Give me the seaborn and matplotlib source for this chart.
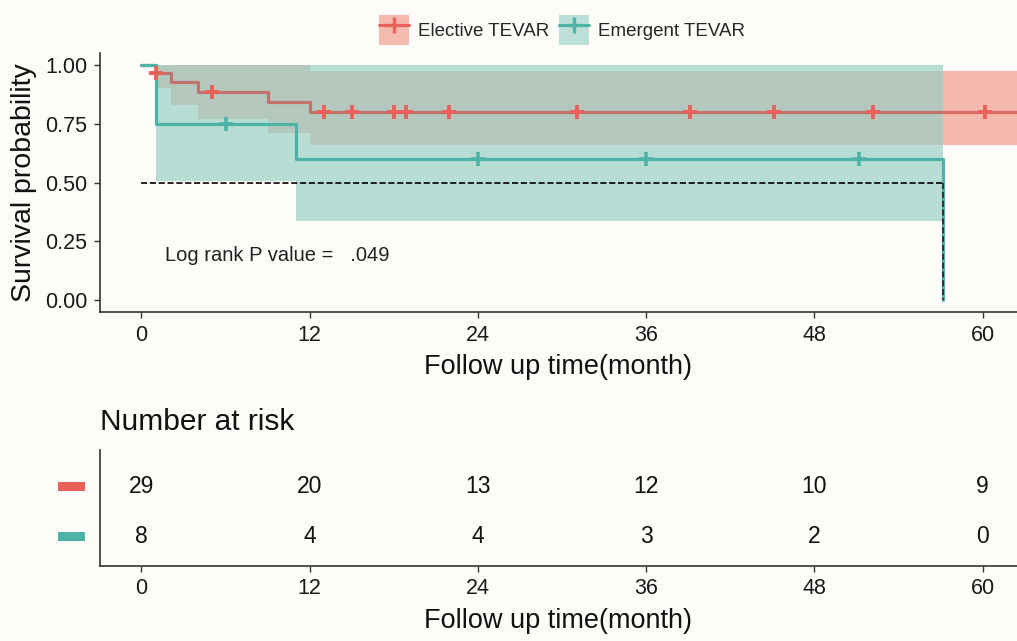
import numpy as np
import matplotlib
matplotlib.use("Agg")
import matplotlib.pyplot as plt
import seaborn as sns
from matplotlib.patches import Patch, Rectangle
from matplotlib.lines import Line2D

# ---------- DATA ----------
groups = ["Elective TEVAR", "Emergent TEVAR"]
line_colors = ["#E8625A", "#4DB3A6"]
band_colors = ["#EE7A66", "#9AD0C6"]
band_alpha = [0.52, 0.7]

# Kaplan-Meier steps: time in months, survival probability
elec_time = [0, 1.0, 2.1, 4.05, 9.0, 12.0, 62.5]
elec_surv = [1.0, 0.966, 0.926, 0.884, 0.841, 0.80, 0.80]
elec_upper = [1.0, 1.0, 1.0, 1.0, 1.0, 0.972, 0.972]
elec_lower = [1.0, 0.90, 0.83, 0.77, 0.71, 0.66, 0.66]
elec_censor = [1.0, 5.0, 13.0, 15.0, 18.0, 18.9, 21.9, 31.1, 39.1, 45.1, 52.2, 60.2]

emer_time = [0, 1.0, 11.0, 57.2, 57.2]
emer_surv = [1.0, 0.75, 0.60, 0.60, 0.0]
emer_band_time = [0, 1.0, 11.0, 57.2]
emer_upper = [1.0, 1.0, 1.0, 1.0]
emer_lower = [1.0, 0.506, 0.336, 0.336]
emer_censor = [6.0, 24.0, 36.0, 51.2]

median_time = 57.2
p_text = "Log rank P value =   .049"

risk_times = [0, 12, 24, 36, 48, 60]
elec_risk = [29, 20, 13, 12, 10, 9]
emer_risk = [8, 4, 4, 3, 2, 0]

xticks = [0, 12, 24, 36, 48, 60]
yticks = [0.0, 0.25, 0.5, 0.75, 1.0]
xlabel = "Follow up time(month)"


def surv_at(times, surv, t):
    idx = np.searchsorted(np.asarray(times), np.asarray(t), side="right") - 1
    return np.asarray(surv)[idx]


sns.set_theme(style="ticks")
plt.rcParams["font.family"] = ["Liberation Sans", "DejaVu Sans"]
bg = "#fdfcf9"
W, H = 1017, 641
fig = plt.figure(figsize=(W / 100, H / 100), dpi=100, facecolor=bg)

# ---------- survival panel ----------
ax = fig.add_axes([100 / W, 1 - 312 / H, 1 - 100 / W, (312 - 53) / H], facecolor=bg)
XLIM = (-2.96, 62.45)

ax.fill_between(elec_time, elec_lower, elec_upper, step="post",
                color=band_colors[0], alpha=band_alpha[0], lw=0, zorder=1)
ax.fill_between(emer_band_time, emer_lower, emer_upper, step="post",
                color=band_colors[1], alpha=band_alpha[1], lw=0, zorder=2)
# elective curve sits over the bands, partly transparent (brownish inside the overlap)
sns.lineplot(x=elec_time, y=elec_surv, drawstyle="steps-post", estimator=None,
             sort=False, color="#C83C37", alpha=0.6, lw=2.3, ax=ax, zorder=3)
sns.lineplot(x=emer_time, y=emer_surv, drawstyle="steps-post", estimator=None,
             sort=False, color=line_colors[1], lw=2.3, ax=ax, zorder=4)

sns.scatterplot(x=elec_censor, y=surv_at(elec_time, elec_surv, elec_censor),
                marker="+", s=115, linewidth=2.8, color=line_colors[0], ax=ax, zorder=5)
sns.scatterplot(x=emer_censor, y=surv_at(emer_time, emer_surv, emer_censor),
                marker="+", s=115, linewidth=2.6, color=line_colors[1], ax=ax, zorder=5)

# median survival line
ax.plot([0, median_time], [0.5, 0.5], ls="--", color="black", lw=1.2, zorder=6)
ax.plot([median_time, median_time], [0.5, 0.0], ls="--", color="#222222", lw=1.2, zorder=6)

ax.text(1.7, 0.19, p_text, fontsize=14.5, color="#222222", va="center", ha="left")

ax.set_xlim(*XLIM)
ax.set_ylim(-0.05, 1.05)
ax.set_xticks(xticks)
ax.set_yticks(yticks)
ax.set_yticklabels([f"{v:.2f}" for v in yticks])
ax.tick_params(labelsize=15.5, length=4, width=1, colors="#333333", labelcolor="#1a1a1a", pad=5)
ax.set_xlabel(xlabel, fontsize=19.5, color="#111111", labelpad=6)
ax.set_ylabel("Survival probability", fontsize=20.5, color="#111111", labelpad=6)
for s in ["top", "right"]:
    ax.spines[s].set_visible(False)
for s in ["left", "bottom"]:
    ax.spines[s].set_color("#333333")
    ax.spines[s].set_linewidth(1.2)

handles = []
for lc, bc, al in zip(line_colors, ["#EE7A66", "#5BB5A5"], [0.5, 0.4]):
    handles.append((Patch(facecolor=bc, alpha=al, lw=0),
                    Line2D([], [], color=lc, lw=2.2, marker="+", ms=12, mew=2.4)))
fig.legend(handles, groups, loc="center", bbox_to_anchor=(562 / W, 1 - 30 / H),
           ncol=2, frameon=False, fontsize=13.5, handlelength=1.6, handleheight=2.1,
           handletextpad=0.5, columnspacing=0.5, borderaxespad=0)

# ---------- risk table ----------
tab = fig.add_axes([100 / W, 1 - 566 / H, 1 - 100 / W, (566 - 450) / H], facecolor=bg)
tab.set_xlim(*XLIM)
tab.set_ylim(0.413, 2.733)
for t, n in zip(risk_times, elec_risk):
    tab.text(t, 2, str(n), ha="center", va="center", fontsize=16.5, color="#111111")
for t, n in zip(risk_times, emer_risk):
    tab.text(t, 1, str(n), ha="center", va="center", fontsize=16.5, color="#111111")
tab.set_xticks(xticks)
tab.set_yticks([])
tab.tick_params(labelsize=15.5, length=4, width=1, colors="#333333", labelcolor="#1a1a1a", pad=5)
tab.set_xlabel(xlabel, fontsize=19.5, color="#111111", labelpad=6)
for s in ["top", "right"]:
    tab.spines[s].set_visible(False)
for s in ["left", "bottom"]:
    tab.spines[s].set_color("#333333")
    tab.spines[s].set_linewidth(1.2)

# colour keys for the rows
for yc, c in zip([486.5, 536.5], line_colors):
    fig.add_artist(Rectangle((58 / W, 1 - (yc + 4.5) / H), 27 / W, 9 / H,
                             transform=fig.transFigure, facecolor=c, edgecolor="none"))

fig.text(100 / W, 1 - 422 / H, "Number at risk", fontsize=21.5, color="#111111",
         ha="left", va="center")

fig.savefig("out.png", dpi=100, facecolor=bg)
